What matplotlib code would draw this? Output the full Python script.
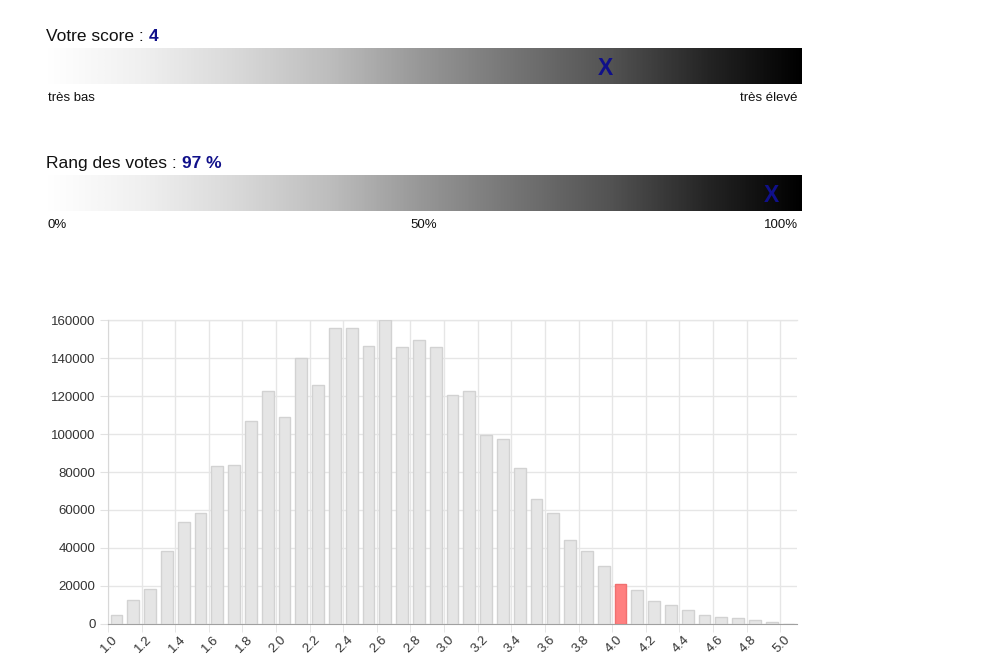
import numpy as np
import matplotlib
matplotlib.use("Agg")
import matplotlib.pyplot as plt
from matplotlib.ticker import FixedLocator

plt.rcParams['font.family'] = ['Liberation Sans', 'DejaVu Sans']

# ── données ──────────────────────────────────────────────
score = 4            # sur l'échelle 1..5
rang = 97            # en %
notes = [f"{v / 10:.1f}" for v in range(10, 51)]
votes = [4700, 12600, 18400, 38400, 53700, 58400, 83100, 83500, 106600, 122600,
         108900, 139800, 125800, 155600, 155700, 146500, 159800, 145800, 149500, 145600,
         120700, 122600, 99300, 97200, 81900, 65800, 58400, 44200, 38200, 30500,
         21000, 17900, 11900, 9800, 7200, 4700, 3700, 3000, 1900, 900, 0]
note_user = "4.0"

W, H = 987, 658
NAVY = "#10108a"
fig = plt.figure(figsize=(W / 100, H / 100), dpi=100)


def px_axes(l, t, w, h):
    return fig.add_axes([l / W, 1 - (t + h) / H, w / W, h / H])


def fx(x):
    return x / W


def fy(y):
    return 1 - y / H


grad = np.linspace(0, 1, 512).reshape(1, -1)


def jauge(top, titre, valeur, xmin, xmax, pos, labels):
    ax = px_axes(46, top, 756, 36)
    ax.imshow(grad, cmap="Greys", aspect="auto", extent=(xmin, xmax, 0, 1),
              interpolation="bilinear", vmin=0, vmax=1)
    ax.set_xlim(xmin, xmax); ax.set_ylim(0, 1)
    ax.axis("off")
    # le X finit à la position de la valeur
    ax.text(pos, 0.42, "X", color=NAVY, fontsize=16.5, fontweight="bold",
            ha="right", va="center")
    t1 = fig.text(fx(46), fy(top - 4), titre, fontsize=12.5, color="#111",
                  ha="left", va="bottom")
    ax.annotate(valeur, xy=(1, 0), xycoords=t1, fontsize=12.5, color=NAVY,
                fontweight="bold", ha="left", va="bottom")
    for x, s, ha in labels:
        fig.text(fx(x), fy(top + 50), s, fontsize=9.5, color="#111", ha=ha, va="center")


jauge(48, "Votre score : ", str(score), 1, 5, score,
      [(48, "très bas", "left"), (798, "très élevé", "right")])
jauge(175, "Rang des votes : ", f"{rang} %", 0, 100, rang,
      [(48, "0%", "left"), (424, "50%", "center"), (798, "100%", "right")])

# ── histogramme ──────────────────────────────────────────
ax = px_axes(108, 320, 689, 304)
x = np.arange(len(notes))
couleurs = ["#ff8080" if n == note_user else "#e5e5e5" for n in notes]
bords = ["#f07070" if n == note_user else "#d2d2d2" for n in notes]
ax.bar(x, votes, width=0.7, color=couleurs, edgecolor=bords, linewidth=1, zorder=3)
ax.set_xlim(-0.5, len(notes) - 0.5)
ax.set_ylim(0, 160000)
ax.set_yticks(np.arange(0, 160001, 20000))
ax.set_xticks(x[::2])
ax.set_xticklabels(notes[::2], rotation=45, ha="right", va="center",
                   rotation_mode="anchor")
ax.xaxis.set_minor_locator(FixedLocator(np.arange(-0.5, len(notes) - 1, 2)))
ax.tick_params(axis="x", which="major", length=0, pad=10, labelsize=9.5, labelcolor="#333")
ax.tick_params(axis="x", which="minor", length=6, color="#e2e2e2")
ax.tick_params(axis="y", length=6, color="#e2e2e2", labelsize=9.5, labelcolor="#333", pad=3)
ax.grid(axis="y", color="#e6e6e6", lw=1, zorder=0)
ax.grid(axis="x", which="minor", color="#e6e6e6", lw=1, zorder=0)
for s in ("top", "right"):
    ax.spines[s].set_visible(False)
ax.spines["left"].set_color("#d8d8d8")
ax.spines["bottom"].set_color("#a0a0a0")
ax.axhline(160000, color="#e6e6e6", lw=1, zorder=0, clip_on=False)

fig.savefig("out.png", dpi=100)
